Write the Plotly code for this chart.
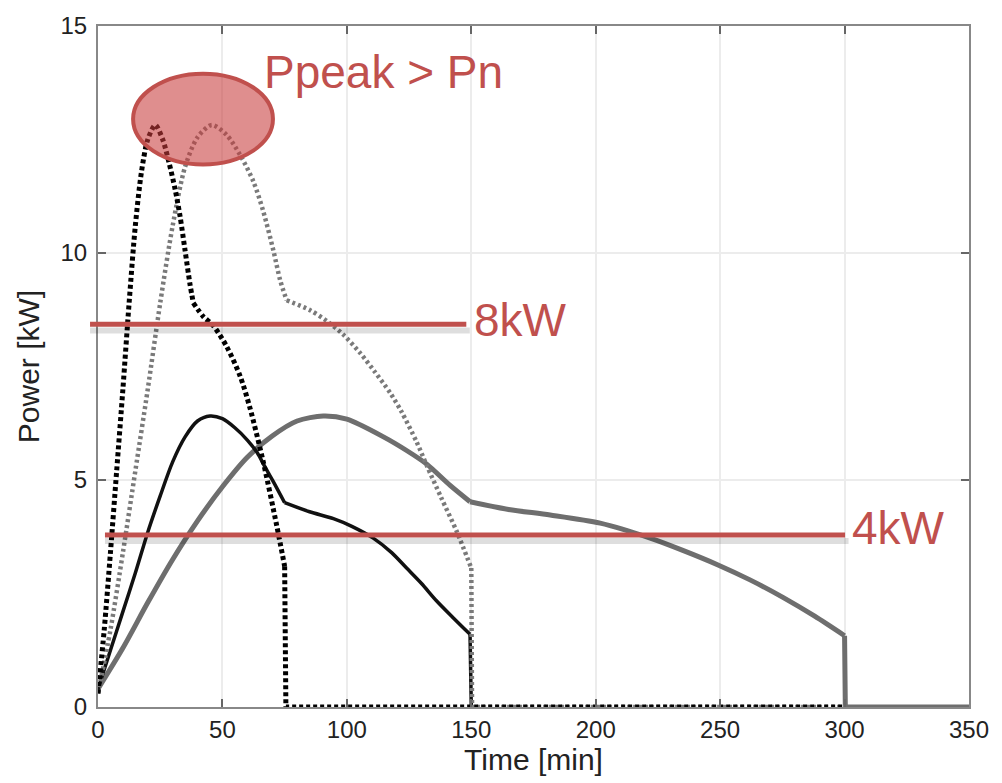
import plotly.graph_objects as go

# ---- data ----
# black dotted curve
t_fast = [0, 2.5, 5, 7.5, 10, 12.5, 15, 17.5, 20, 23, 26, 28.5, 31, 33, 35, 37, 38.3,
          42.3, 46.3, 51.7, 57.1, 61, 66.4, 71.8, 75, 75.5, 300]
p_fast = [0.3, 1.7, 3.4, 5.2, 7.0, 8.9, 10.6, 11.8, 12.5, 12.82, 12.5, 12.0, 11.4, 10.8, 10.05,
          9.3, 8.9, 8.6, 8.4, 7.94, 7.29, 6.6, 5.4, 4.0, 3.1, 0, 0]

# gray dotted curve
t_gdot = [0, 5, 10, 15, 20, 25, 30, 35, 40, 45.7, 51.7, 57.1, 62.4, 66.4, 70.5, 73.2, 75.8,
          85.2, 92, 98.6, 105.3, 111, 117.4, 122, 128.1, 132.1, 138, 144.2, 150, 150.3, 300]
p_gdot = [0.3, 1.7, 3.4, 5.2, 7.0, 8.9, 10.6, 11.9, 12.55, 12.82, 12.6, 12.16, 11.58, 10.92,
          10.05, 9.4, 8.96, 8.74, 8.5, 8.2, 7.8, 7.4, 6.92, 6.5, 5.83, 5.32, 4.6, 3.86, 3.06, 0, 0]

# black solid curve
t_bsol = [0, 5, 10, 15, 20, 25, 30, 35, 40, 45, 50, 55, 60, 64, 67, 70.5, 75,
          85, 94.6, 102, 110.6, 118, 124, 130, 136, 143, 149.5, 150]
p_bsol = [0.4, 1.25, 2.1, 2.95, 3.85, 4.65, 5.4, 5.95, 6.3, 6.41, 6.35, 6.15, 5.88, 5.6, 5.3,
          4.96, 4.5, 4.3, 4.15, 3.98, 3.72, 3.4, 3.06, 2.72, 2.34, 1.95, 1.6, 0]

# gray solid curve
t_gsol = [0, 10, 20, 30, 40, 50, 60, 70, 80, 90.5, 100, 114.7, 124, 132.1, 141.5, 149.5,
          165, 181.7, 201.8, 221.9, 235, 248.7, 262, 275.4, 288, 300, 300.3, 350]
p_gsol = [0.4, 1.3, 2.3, 3.25, 4.1, 4.85, 5.5, 5.97, 6.3, 6.41, 6.34, 5.95, 5.65, 5.35, 4.88,
          4.52, 4.35, 4.23, 4.05, 3.72, 3.45, 3.14, 2.8, 2.41, 2.0, 1.57, 0, 0]

# times where each curve has a corner, and where its vertical drop starts
kinks_fast, drop_fast = [38.3], 75
kinks_gdot, drop_gdot = [75.8], 150
kinks_bsol, drop_bsol = [75], 149.5
kinks_gsol, drop_gsol = [149.5], 300

x_ticks = [0, 50, 100, 150, 200, 250, 300, 350]
y_ticks = [0, 5, 10, 15]
x_range = [0, 350]
y_range = [0, 15]

# annotation levels (as drawn in the reference)
level_8kw = 8.43
level_4kw = 3.79
line_8kw_x = [-3.2, 148.0]
line_4kw_x = [2.8, 300.2]
peak_ellipse_x = [14.1, 70.3]
peak_ellipse_y = [11.95, 13.95]

RED = "#c0504d"
FONT = "Liberation Sans, Arial, Helvetica, sans-serif"

fig = go.Figure()


def add_curve(t, p, kinks, drop, line):
    cuts = [t.index(k) for k in kinks] + [t.index(drop)]
    start = 0
    for c in cuts:
        fig.add_trace(go.Scatter(x=t[start:c + 1], y=p[start:c + 1], mode="lines",
                                 line=dict(shape="spline", smoothing=0.8, **line),
                                 showlegend=False, hoverinfo="skip"))
        start = c
    fig.add_trace(go.Scatter(x=t[start:], y=p[start:], mode="lines",
                             line=dict(shape="linear", **line),
                             showlegend=False, hoverinfo="skip"))


add_curve(t_gsol, p_gsol, kinks_gsol, drop_gsol, dict(color="#6e6e6e", width=5))
add_curve(t_bsol, p_bsol, kinks_bsol, drop_bsol, dict(color="#111111", width=3.5))
add_curve(t_gdot, p_gdot, kinks_gdot, drop_gdot, dict(color="#7a7a7a", width=4.5, dash="3px,3px"))
add_curve(t_fast, p_fast, kinks_fast, drop_fast, dict(color="#000000", width=5, dash="4px,3px"))


def xp(v):
    return (v - x_range[0]) / (x_range[1] - x_range[0])


def yp(v):
    return (v - y_range[0]) / (y_range[1] - y_range[0])


shapes = []
for lvl, xs in [(level_8kw, line_8kw_x), (level_4kw, line_4kw_x)]:
    shapes.append(dict(type="line", xref="paper", yref="paper",
                       x0=xp(xs[0]), x1=xp(xs[1]) + 0.004, y0=yp(lvl) - 0.009, y1=yp(lvl) - 0.009,
                       line=dict(color="rgba(0,0,0,0.13)", width=6), layer="above"))
    shapes.append(dict(type="line", xref="paper", yref="paper",
                       x0=xp(xs[0]), x1=xp(xs[1]), y0=yp(lvl), y1=yp(lvl),
                       line=dict(color=RED, width=5), layer="above"))

shapes.append(dict(type="circle", xref="x", yref="y",
                   x0=peak_ellipse_x[0], x1=peak_ellipse_x[1],
                   y0=peak_ellipse_y[0], y1=peak_ellipse_y[1],
                   fillcolor="rgba(200,60,60,0.58)", line=dict(color=RED, width=4), layer="above"))

annotations = [
    dict(x=65.8, y=13.98, xref="x", yref="y", text="Ppeak &gt; Pn", showarrow=False,
         xanchor="left", yanchor="middle", font=dict(family=FONT, size=46, color=RED)),
    dict(x=150.1, y=8.52, xref="x", yref="y", text="8kW", showarrow=False,
         xanchor="left", yanchor="middle", font=dict(family=FONT, size=46, color=RED)),
    dict(x=302.3, y=3.94, xref="x", yref="y", text="4kW", showarrow=False,
         xanchor="left", yanchor="middle", font=dict(family=FONT, size=46, color=RED)),
]

axis_common = dict(
    ticks="inside", ticklen=8, tickwidth=1.5, tickcolor="#666666",
    showline=True, linecolor="#888888", linewidth=2, mirror="ticks",
    showgrid=True, gridcolor="#ececec", gridwidth=1.5, zeroline=False,
    tickfont=dict(family=FONT, size=24, color="#222222"),
)

fig.update_layout(
    width=1002, height=783, autosize=False,
    margin=dict(l=98, r=33, t=20, b=76),
    paper_bgcolor="white", plot_bgcolor="white",
    font=dict(family=FONT),
    xaxis=dict(range=x_range, tickvals=x_ticks, **axis_common,
               title=dict(text="Time [min]", font=dict(family=FONT, size=30, color="#222222"),
                          standoff=7)),
    yaxis=dict(range=y_range, tickvals=y_ticks, **axis_common, ticklabelstandoff=4,
               title=dict(text="Power [kW]", font=dict(family=FONT, size=30, color="#222222"),
                          standoff=12)),
    shapes=shapes,
    annotations=annotations,
)

fig.write_html("out.html")
